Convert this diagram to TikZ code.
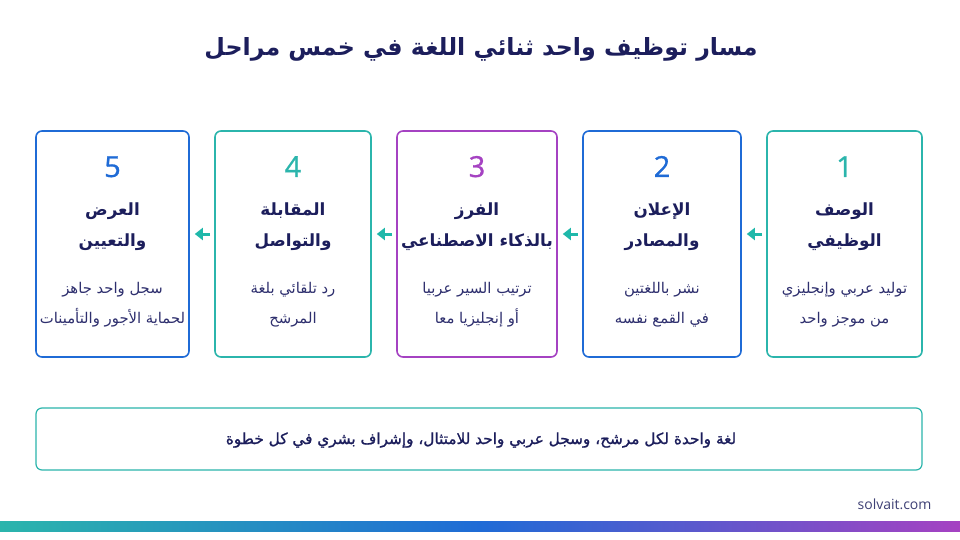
\documentclass[tikz,border=0pt]{standalone}
\usepackage{fontspec}
\usetikzlibrary{arrows.meta}
\setmainfont{Open Sans}
\newfontfamily\arabicfont[Script=Arabic]{DejaVu Sans}
\newfontfamily\arabicmed[Script=Arabic,FakeBold=1.2]{DejaVu Sans}
\newfontfamily\numfont[FakeBold=0.8]{Open Sans}
\TeXXeTstate=1
\definecolor{navy}{HTML}{1C1E5C}
\definecolor{bodytxt}{HTML}{2E2F6E}
\definecolor{tealc}{HTML}{2BB5AC}
\definecolor{bluec}{HTML}{1F6BD6}
\definecolor{purplec}{HTML}{A542C2}
\definecolor{arrowc}{HTML}{1FB8AA}
\begin{document}
\begin{tikzpicture}[x=1pt,y=-1pt,
  card/.style={draw, line width=1.6pt, rounded corners=6pt, minimum width=#1, minimum height=226, inner sep=0pt},
  numtxt/.style={anchor=base, font=\fontsize{29}{29}\selectfont\numfont},
  ttl/.style={anchor=base, text=navy, font=\fontsize{16.8}{16.8}\selectfont\arabicfont\bfseries},
  desc/.style={anchor=base, text=bodytxt, font=\fontsize{14.8}{14.8}\selectfont\arabicfont},
  flow/.style={draw=arrowc, line width=3pt, -{Triangle[length=8pt,width=12pt]}, shorten >=5pt, shorten <=4pt}
]
\useasboundingbox (0,0) rectangle (960,540);
\fill[white] (0,0) rectangle (960,540);

\node[anchor=base, text=navy, font=\fontsize{23.7}{23.7}\selectfont\arabicfont\bfseries] (title) at (481,56) {\beginR مسار توظيف واحد ثنائي اللغة في خمس مراحل\endR};

\newcommand{\stepcard}[9]{%
  \node[card=#3, draw=#4] (b#1) at (#2,244) {};
  \node[numtxt, text=#4] (n#1) at (#2,177) {#5};
  \node[ttl] (ta#1) at (#2,215) {#6};
  \node[ttl] (tb#1) at (#2,246) {#7};
  \node[desc] (da#1) at (#2,293) {#8};
  \node[desc] (db#1) at (#2,323) {#9};
}
\stepcard{1}{844.5}{155}{tealc}{1}{\beginR الوصف\endR}{\beginR الوظيفي\endR}{\beginR توليد عربي وإنجليزي\endR}{\beginR من موجز واحد\endR}
\stepcard{2}{662}{158}{bluec}{2}{\beginR الإعلان\endR}{\beginR والمصادر\endR}{\beginR نشر باللغتين\endR}{\beginR في القمع نفسه\endR}
\stepcard{3}{477}{160}{purplec}{3}{\beginR الفرز\endR}{\beginR بالذكاء الاصطناعي\endR}{\beginR ترتيب السير عربيا\endR}{\beginR أو إنجليزيا معا\endR}
\stepcard{4}{293}{156}{tealc}{4}{\beginR المقابلة\endR}{\beginR والتواصل\endR}{\beginR رد تلقائي بلغة\endR}{\beginR المرشح\endR}
\stepcard{5}{112.5}{153}{bluec}{5}{\beginR العرض\endR}{\beginR والتعيين\endR}{\beginR سجل واحد جاهز\endR}{\beginR لحماية الأجور والتأمينات\endR}

\draw[flow] ([yshift=10pt]b1.west) -- ([yshift=10pt]b2.east);
\draw[flow] ([yshift=10pt]b2.west) -- ([yshift=10pt]b3.east);
\draw[flow] ([yshift=10pt]b3.west) -- ([yshift=10pt]b4.east);
\draw[flow] ([yshift=10pt]b4.west) -- ([yshift=10pt]b5.east);

\node[draw=tealc, line width=1.2pt, rounded corners=6pt, minimum width=886, minimum height=62, inner sep=0pt] (foot) at (479,439) {};
\node[anchor=base, text=navy, font=\fontsize{15.3}{15.3}\selectfont\arabicmed] (foottxt) at (481,444) {\beginR لغة واحدة لكل مرشح، وسجل عربي واحد للامتثال، وإشراف بشري في كل خطوة\endR};

\node[anchor=base east, text=navy!85, font=\fontsize{14}{14}\selectfont] (site) at (935,509) {solvait.com};

\shade[left color=tealc, right color=purplec, middle color=bluec] (0,521) rectangle (960,531);
\end{tikzpicture}
\end{document}
